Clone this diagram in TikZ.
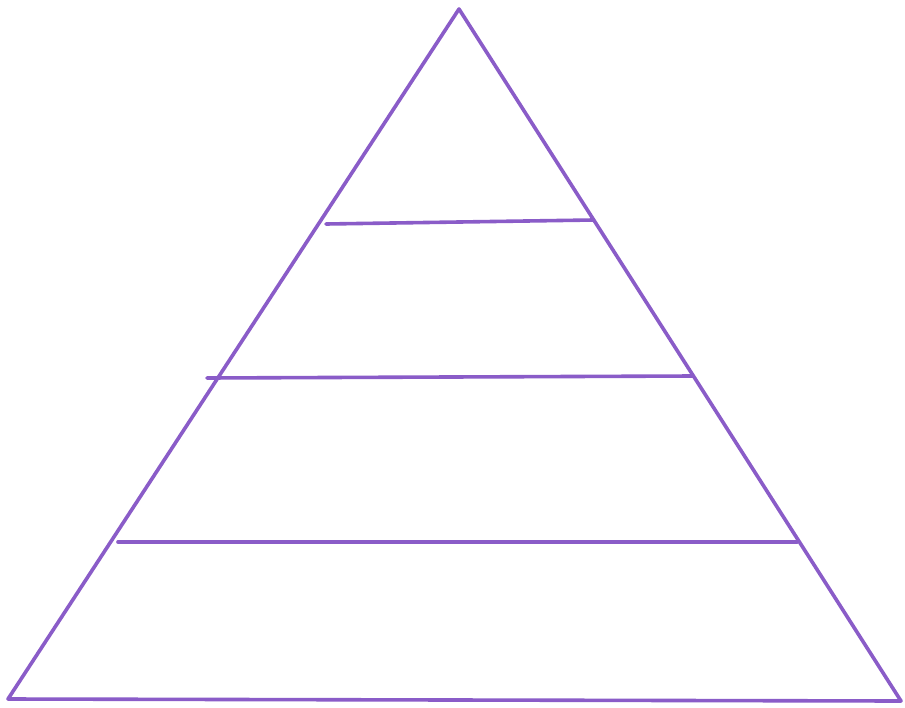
\documentclass[tikz,border=0pt]{standalone}
\definecolor{pyr}{RGB}{138,92,200}
\tikzset{edge/.style={draw=pyr,line width=3.6pt,line join=round,line cap=round}}
\begin{document}
\begin{tikzpicture}[x=1pt,y=-1pt]
\useasboundingbox[fill=white] (0,0) rectangle (905,707);
\coordinate (apex) at (459,9);
\coordinate (bl) at (8,699);
\coordinate (br) at (901,701);
\draw[edge] (apex) -- (bl) -- (br) -- cycle;
\coordinate (a1) at (326,224);
\coordinate (b1) at (593,220);
\coordinate (a2) at (207,378);
\coordinate (b2) at (693,376);
\coordinate (a3) at (118,542);
\coordinate (b3) at (797,542);
\draw[edge] (a1) -- (b1);
\draw[edge] (a2) -- (b2);
\draw[edge] (a3) -- (b3);
\end{tikzpicture}
\end{document}
